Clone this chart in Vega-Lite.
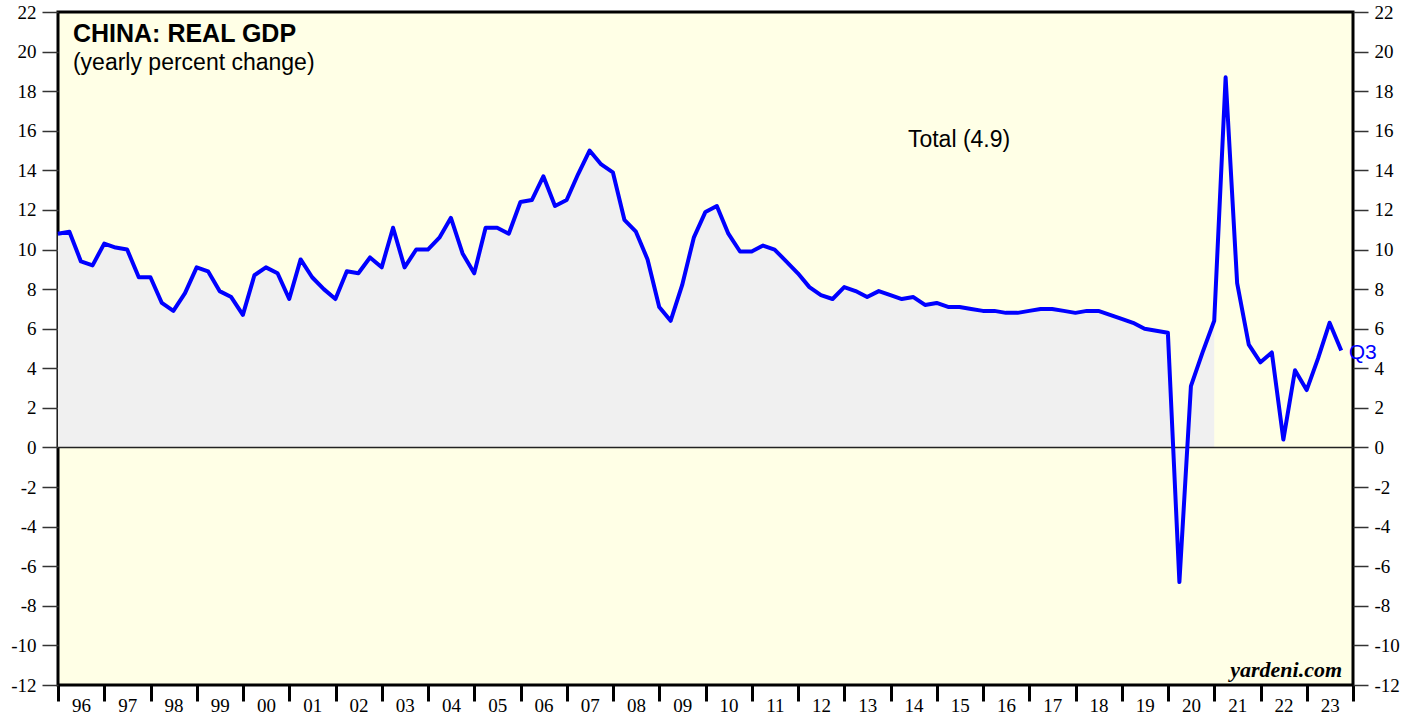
{
  "$schema": "https://vega.github.io/schema/vega-lite/v6.json",
  "autosize": "none",
  "width": 1295,
  "height": 673,
  "padding": {"left": 58, "top": 12, "right": 68, "bottom": 32},
  "background": "white",
  "config": {
    "view": {"stroke": "black", "strokeWidth": 3, "fill": "#FFFFE6"}
  },
  "datasets": {
    "gdp": [
      {"date": "1995-12-31", "value": 10.8},
      {"date": "1996-03-31", "value": 10.9},
      {"date": "1996-06-30", "value": 9.4},
      {"date": "1996-09-30", "value": 9.2},
      {"date": "1996-12-31", "value": 10.3},
      {"date": "1997-03-31", "value": 10.1},
      {"date": "1997-06-30", "value": 10.0},
      {"date": "1997-09-30", "value": 8.6},
      {"date": "1997-12-31", "value": 8.6},
      {"date": "1998-03-31", "value": 7.3},
      {"date": "1998-06-30", "value": 6.9},
      {"date": "1998-09-30", "value": 7.8},
      {"date": "1998-12-31", "value": 9.1},
      {"date": "1999-03-31", "value": 8.9},
      {"date": "1999-06-30", "value": 7.9},
      {"date": "1999-09-30", "value": 7.6},
      {"date": "1999-12-31", "value": 6.7},
      {"date": "2000-03-31", "value": 8.7},
      {"date": "2000-06-30", "value": 9.1},
      {"date": "2000-09-30", "value": 8.8},
      {"date": "2000-12-31", "value": 7.5},
      {"date": "2001-03-31", "value": 9.5},
      {"date": "2001-06-30", "value": 8.6},
      {"date": "2001-09-30", "value": 8.0},
      {"date": "2001-12-31", "value": 7.5},
      {"date": "2002-03-31", "value": 8.9},
      {"date": "2002-06-30", "value": 8.8},
      {"date": "2002-09-30", "value": 9.6},
      {"date": "2002-12-31", "value": 9.1},
      {"date": "2003-03-31", "value": 11.1},
      {"date": "2003-06-30", "value": 9.1},
      {"date": "2003-09-30", "value": 10.0},
      {"date": "2003-12-31", "value": 10.0},
      {"date": "2004-03-31", "value": 10.6},
      {"date": "2004-06-30", "value": 11.6},
      {"date": "2004-09-30", "value": 9.8},
      {"date": "2004-12-31", "value": 8.8},
      {"date": "2005-03-31", "value": 11.1},
      {"date": "2005-06-30", "value": 11.1},
      {"date": "2005-09-30", "value": 10.8},
      {"date": "2005-12-31", "value": 12.4},
      {"date": "2006-03-31", "value": 12.5},
      {"date": "2006-06-30", "value": 13.7},
      {"date": "2006-09-30", "value": 12.2},
      {"date": "2006-12-31", "value": 12.5},
      {"date": "2007-03-31", "value": 13.8},
      {"date": "2007-06-30", "value": 15.0},
      {"date": "2007-09-30", "value": 14.3},
      {"date": "2007-12-31", "value": 13.9},
      {"date": "2008-03-31", "value": 11.5},
      {"date": "2008-06-30", "value": 10.9},
      {"date": "2008-09-30", "value": 9.5},
      {"date": "2008-12-31", "value": 7.1},
      {"date": "2009-03-31", "value": 6.4},
      {"date": "2009-06-30", "value": 8.2},
      {"date": "2009-09-30", "value": 10.6},
      {"date": "2009-12-31", "value": 11.9},
      {"date": "2010-03-31", "value": 12.2},
      {"date": "2010-06-30", "value": 10.8},
      {"date": "2010-09-30", "value": 9.9},
      {"date": "2010-12-31", "value": 9.9},
      {"date": "2011-03-31", "value": 10.2},
      {"date": "2011-06-30", "value": 10.0},
      {"date": "2011-09-30", "value": 9.4},
      {"date": "2011-12-31", "value": 8.8},
      {"date": "2012-03-31", "value": 8.1},
      {"date": "2012-06-30", "value": 7.7},
      {"date": "2012-09-30", "value": 7.5},
      {"date": "2012-12-31", "value": 8.1},
      {"date": "2013-03-31", "value": 7.9},
      {"date": "2013-06-30", "value": 7.6},
      {"date": "2013-09-30", "value": 7.9},
      {"date": "2013-12-31", "value": 7.7},
      {"date": "2014-03-31", "value": 7.5},
      {"date": "2014-06-30", "value": 7.6},
      {"date": "2014-09-30", "value": 7.2},
      {"date": "2014-12-31", "value": 7.3},
      {"date": "2015-03-31", "value": 7.1},
      {"date": "2015-06-30", "value": 7.1},
      {"date": "2015-09-30", "value": 7.0},
      {"date": "2015-12-31", "value": 6.9},
      {"date": "2016-03-31", "value": 6.9},
      {"date": "2016-06-30", "value": 6.8},
      {"date": "2016-09-30", "value": 6.8},
      {"date": "2016-12-31", "value": 6.9},
      {"date": "2017-03-31", "value": 7.0},
      {"date": "2017-06-30", "value": 7.0},
      {"date": "2017-09-30", "value": 6.9},
      {"date": "2017-12-31", "value": 6.8},
      {"date": "2018-03-31", "value": 6.9},
      {"date": "2018-06-30", "value": 6.9},
      {"date": "2018-09-30", "value": 6.7},
      {"date": "2018-12-31", "value": 6.5},
      {"date": "2019-03-31", "value": 6.3},
      {"date": "2019-06-30", "value": 6.0},
      {"date": "2019-09-30", "value": 5.9},
      {"date": "2019-12-31", "value": 5.8},
      {"date": "2020-03-31", "value": -6.8},
      {"date": "2020-06-30", "value": 3.1},
      {"date": "2020-09-30", "value": 4.8},
      {"date": "2020-12-31", "value": 6.4},
      {"date": "2021-03-31", "value": 18.7},
      {"date": "2021-06-30", "value": 8.3},
      {"date": "2021-09-30", "value": 5.2},
      {"date": "2021-12-31", "value": 4.3},
      {"date": "2022-03-31", "value": 4.8},
      {"date": "2022-06-30", "value": 0.4},
      {"date": "2022-09-30", "value": 3.9},
      {"date": "2022-12-31", "value": 2.9},
      {"date": "2023-03-31", "value": 4.5},
      {"date": "2023-06-30", "value": 6.3},
      {"date": "2023-09-30", "value": 4.9}
    ],
    "notes": [
      {"note": "CHINA: REAL GDP"}
    ]
  },
  "data": {"name": "gdp"},
  "layer": [
    {
      "transform": [
        {"filter": {"field": "date", "lte": {"year": 2020, "month": 12, "date": 31, "utc": true}}}
      ],
      "mark": {"type": "area", "color": "#F0F0F0", "opacity": 1},
      "encoding": {
        "x": {
          "field": "date",
          "type": "temporal",
          "scale": {
            "type": "utc",
            "domain": [
              {"year": 1996, "month": 1, "date": 1, "utc": true},
              {"year": 2024, "month": 1, "date": 1, "utc": true}
            ]
          },
          "axis": {
            "title": null,
            "domain": false,
            "grid": false,
            "values": [
              {"year": 1996, "month": 1, "date": 1, "utc": true},
              {"year": 1997, "month": 1, "date": 1, "utc": true},
              {"year": 1998, "month": 1, "date": 1, "utc": true},
              {"year": 1999, "month": 1, "date": 1, "utc": true},
              {"year": 2000, "month": 1, "date": 1, "utc": true},
              {"year": 2001, "month": 1, "date": 1, "utc": true},
              {"year": 2002, "month": 1, "date": 1, "utc": true},
              {"year": 2003, "month": 1, "date": 1, "utc": true},
              {"year": 2004, "month": 1, "date": 1, "utc": true},
              {"year": 2005, "month": 1, "date": 1, "utc": true},
              {"year": 2006, "month": 1, "date": 1, "utc": true},
              {"year": 2007, "month": 1, "date": 1, "utc": true},
              {"year": 2008, "month": 1, "date": 1, "utc": true},
              {"year": 2009, "month": 1, "date": 1, "utc": true},
              {"year": 2010, "month": 1, "date": 1, "utc": true},
              {"year": 2011, "month": 1, "date": 1, "utc": true},
              {"year": 2012, "month": 1, "date": 1, "utc": true},
              {"year": 2013, "month": 1, "date": 1, "utc": true},
              {"year": 2014, "month": 1, "date": 1, "utc": true},
              {"year": 2015, "month": 1, "date": 1, "utc": true},
              {"year": 2016, "month": 1, "date": 1, "utc": true},
              {"year": 2017, "month": 1, "date": 1, "utc": true},
              {"year": 2018, "month": 1, "date": 1, "utc": true},
              {"year": 2019, "month": 1, "date": 1, "utc": true},
              {"year": 2020, "month": 1, "date": 1, "utc": true},
              {"year": 2021, "month": 1, "date": 1, "utc": true},
              {"year": 2022, "month": 1, "date": 1, "utc": true},
              {"year": 2023, "month": 1, "date": 1, "utc": true},
              {"year": 2024, "month": 1, "date": 1, "utc": true}
            ],
            "labelExpr": "utcyear(datum.value) > 2023 ? '' : utcFormat(datum.value, '%y')",
            "labelOffset": 23,
            "labelAlign": "center",
            "labelBaseline": "top",
            "labelPadding": -5,
            "labelFont": "Liberation Serif",
            "labelFontSize": 19,
            "labelColor": "black",
            "labelFlush": false,
            "labelOverlap": false,
            "labelBound": false,
            "tickSize": 16,
            "tickWidth": 3,
            "tickColor": "black",
            "ticks": true
          }
        },
        "y": {
          "field": "value",
          "type": "quantitative",
          "scale": {"domain": [-12, 22], "nice": false, "zero": false},
          "axis": {
            "orient": "left",
            "title": null,
            "domain": false,
            "grid": false,
            "values": [-12, -10, -8, -6, -4, -2, 0, 2, 4, 6, 8, 10, 12, 14, 16, 18, 20, 22],
            "labelExpr": "datum.value < 0 ? '-' + abs(datum.value) : '' + datum.value",
            "labelFont": "Liberation Serif",
            "labelFontSize": 19,
            "labelColor": "black",
            "labelPadding": 6,
            "labelFlush": false,
            "labelOverlap": false,
            "labelBound": false,
            "tickSize": 16,
            "tickWidth": 1.5,
            "tickColor": "#333333"
          }
        },
        "y2": {"datum": 0}
      }
    },
    {
      "data": {"name": "notes"},
      "mark": {"type": "rule", "color": "#222222", "strokeWidth": 1.5},
      "encoding": {
        "y": {"datum": 0, "type": "quantitative", "axis": null}
      }
    },
    {
      "mark": {"type": "line", "color": "#0000FF", "strokeWidth": 4, "strokeJoin": "round"},
      "encoding": {
        "x": {"field": "date", "type": "temporal"},
        "y": {
          "field": "value",
          "type": "quantitative",
          "axis": {
            "orient": "right",
            "title": null,
            "domain": false,
            "grid": false,
            "values": [-12, -10, -8, -6, -4, -2, 0, 2, 4, 6, 8, 10, 12, 14, 16, 18, 20, 22],
            "labelExpr": "datum.value < 0 ? '-' + abs(datum.value) : '' + datum.value",
            "labelFont": "Liberation Serif",
            "labelFontSize": 19,
            "labelColor": "black",
            "labelPadding": 6,
            "labelFlush": false,
            "labelOverlap": false,
            "labelBound": false,
            "tickSize": 15,
            "tickWidth": 1.5,
            "tickColor": "#333333"
          }
        }
      }
    },
    {
      "data": {"name": "notes"},
      "mark": {"type": "text", "text": "CHINA: REAL GDP", "font": "Liberation Sans", "fontWeight": "bold", "fontSize": 25, "align": "left", "baseline": "alphabetic", "color": "black"},
      "encoding": {
        "x": {"datum": {"year": 1996, "month": 4, "date": 28, "utc": true}, "type": "temporal"},
        "y": {"datum": 20.5, "type": "quantitative", "axis": null}
      }
    },
    {
      "data": {"name": "notes"},
      "mark": {"type": "text", "text": "(yearly percent change)", "font": "Liberation Sans", "fontSize": 23, "align": "left", "baseline": "alphabetic", "color": "black"},
      "encoding": {
        "x": {"datum": {"year": 1996, "month": 4, "date": 28, "utc": true}, "type": "temporal"},
        "y": {"datum": 19.05, "type": "quantitative", "axis": null}
      }
    },
    {
      "data": {"name": "notes"},
      "mark": {"type": "text", "text": "Total (4.9)", "font": "Liberation Sans", "fontSize": 23, "align": "left", "baseline": "alphabetic", "color": "black"},
      "encoding": {
        "x": {"datum": {"year": 2014, "month": 5, "date": 18, "utc": true}, "type": "temporal"},
        "y": {"datum": 15.17, "type": "quantitative", "axis": null}
      }
    },
    {
      "data": {"name": "notes"},
      "mark": {"type": "text", "text": "Q3", "font": "Liberation Sans", "fontSize": 21, "align": "left", "baseline": "alphabetic", "color": "#0000FF"},
      "encoding": {
        "x": {"datum": {"year": 2023, "month": 11, "date": 28, "utc": true}, "type": "temporal"},
        "y": {"datum": 4.46, "type": "quantitative", "axis": null}
      }
    },
    {
      "data": {"name": "notes"},
      "mark": {"type": "text", "text": "yardeni.com", "font": "Liberation Serif", "fontWeight": "bold", "fontStyle": "italic", "fontSize": 22, "align": "right", "baseline": "alphabetic", "color": "black"},
      "encoding": {
        "x": {"datum": {"year": 2023, "month": 10, "date": 7, "utc": true}, "type": "temporal"},
        "y": {"datum": -11.58, "type": "quantitative", "axis": null}
      }
    }
  ],
  "resolve": {"axis": {"y": "independent"}}
}
